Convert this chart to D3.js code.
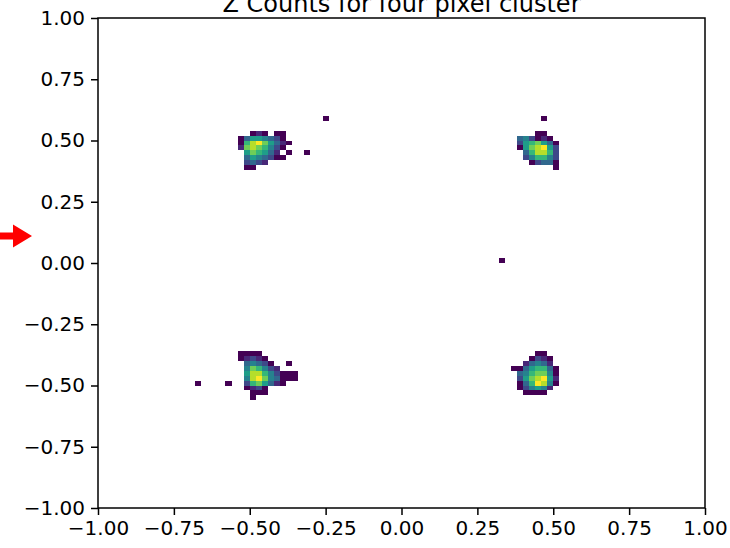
<!DOCTYPE html>
<html>
<head>
<meta charset="utf-8">
<script src="https://cdn.jsdelivr.net/npm/d3@7"></script>
<style>
  html, body { margin: 0; padding: 0; background: #ffffff; }
  svg { display: block; }
  text { font-family: "DejaVu Sans", sans-serif; fill: #000; }
</style>
</head>
<body>
<svg id="chart" width="730" height="548"></svg>
<script>
// 2D histogram of cluster positions, bins of 0.02 on [-1, 1] in both axes.
const binSize = 0.02;
const tickValues = [-1.00, -0.75, -0.50, -0.25, 0.00, 0.25, 0.50, 0.75, 1.00];
const titleText = "Z Counts for four pixel cluster";

// Each cluster: left bin edge (x), lower edge of its top row (y), counts row by row from the top.
const clusterUpperLeft = { x: -0.54, y: 0.52, counts: [
  [0, 0, 1, 2, 1, 0, 1, 1, 0],
  [1, 4, 6, 6, 5, 4, 3, 1, 0],
  [1, 7, 9, 10, 8, 6, 4, 2, 1],
  [2, 8, 9, 8, 7, 5, 3, 1, 0],
  [0, 6, 8, 7, 6, 4, 2, 0, 1],
  [0, 4, 6, 5, 4, 3, 1, 1, 0],
  [0, 3, 4, 3, 2, 0, 0, 0, 0],
  [0, 1, 1, 0, 0, 0, 0, 0, 0]
]};
const clusterUpperRight = { x: 0.38, y: 0.52, counts: [
  [0, 0, 0, 1, 1, 0, 0],
  [4, 5, 3, 1, 2, 1, 0],
  [3, 6, 7, 8, 6, 4, 1],
  [1, 6, 8, 9, 10, 6, 3],
  [0, 4, 7, 9, 9, 7, 3],
  [0, 3, 5, 7, 7, 5, 3],
  [0, 0, 1, 3, 4, 4, 1],
  [0, 0, 0, 0, 0, 0, 1]
]};
const clusterLowerLeft = { x: -0.54, y: -0.38, counts: [
  [1, 1, 1, 1, 0, 0, 0, 0, 0, 0],
  [1, 2, 3, 2, 1, 0, 0, 0, 0, 0],
  [0, 4, 5, 4, 3, 1, 0, 0, 1, 0],
  [0, 5, 8, 7, 5, 3, 2, 0, 0, 0],
  [0, 6, 9, 9, 7, 5, 3, 1, 1, 1],
  [0, 5, 9, 10, 8, 5, 4, 1, 1, 1],
  [0, 3, 7, 8, 6, 4, 2, 1, 0, 0],
  [0, 1, 2, 3, 1, 0, 0, 0, 0, 0],
  [0, 0, 1, 1, 1, 0, 0, 0, 0, 0],
  [0, 0, 1, 0, 0, 0, 0, 0, 0, 0]
]};
const clusterLowerRight = { x: 0.36, y: -0.38, counts: [
  [0, 0, 0, 0, 1, 1, 0, 0],
  [0, 0, 0, 1, 3, 2, 1, 0],
  [0, 0, 2, 4, 5, 4, 2, 0],
  [1, 1, 4, 6, 7, 7, 4, 1],
  [0, 4, 5, 7, 8, 8, 5, 1],
  [0, 3, 6, 8, 9, 10, 6, 2],
  [0, 1, 4, 7, 10, 9, 5, 1],
  [0, 1, 3, 5, 6, 5, 2, 0],
  [0, 0, 1, 1, 1, 1, 0, 0]
]};
// Single isolated hits: [x bin edge, y bin edge, count]
const strayHits = [
  [-0.26, 0.58, 1],
  [-0.32, 0.44, 1],
  [0.46, 0.58, 1],
  [0.32, 0.00, 1],
  [-0.68, -0.50, 1],
  [-0.58, -0.50, 1]
];

const svg = d3.select("#chart");
const margin = { left: 98, right: 25, top: 18, bottom: 40 };
const W = 730, H = 548;

const x = d3.scaleLinear().domain([-1, 1]).range([margin.left, W - margin.right]);
const y = d3.scaleLinear().domain([-1, 1]).range([H - margin.bottom, margin.top]);

// Flatten the cluster grids into bins
const bins = [];
[clusterUpperLeft, clusterUpperRight, clusterLowerLeft, clusterLowerRight].forEach(c => {
  c.counts.forEach((row, r) => {
    row.forEach((v, k) => {
      if (v > 0) bins.push({ x0: c.x + k * binSize, y0: c.y - r * binSize, n: v });
    });
  });
});
strayHits.forEach(([bx, by, n]) => bins.push({ x0: bx, y0: by, n }));

const maxCount = d3.max(bins, d => d.n);
const color = d3.scaleSequential(d3.interpolateViridis).domain([1, maxCount]);

svg.append("g")
  .selectAll("rect")
  .data(bins)
  .join("rect")
  .attr("x", d => x(d.x0))
  .attr("y", d => y(d.y0 + binSize))
  .attr("width", d => x(d.x0 + binSize) - x(d.x0))
  .attr("height", d => y(d.y0) - y(d.y0 + binSize))
  .attr("fill", d => color(d.n))
  .attr("shape-rendering", "crispEdges");

// Axes
const fmt = d3.format(".2f");
const fmtTick = v => fmt(v).replace("-", "\u2212");

const xAxis = svg.append("g")
  .attr("transform", `translate(0,${H - margin.bottom})`)
  .call(d3.axisBottom(x).tickValues(tickValues).tickFormat(fmtTick).tickSize(7).tickPadding(6));
const yAxis = svg.append("g")
  .attr("transform", `translate(${margin.left},0)`)
  .call(d3.axisLeft(y).tickValues(tickValues).tickFormat(fmtTick).tickSize(7).tickPadding(6));

[xAxis, yAxis].forEach(g => {
  g.select(".domain").remove();
  g.selectAll("line").attr("stroke", "#000").attr("stroke-width", 1.5);
  g.selectAll("text").attr("font-size", 20).attr("font-family", "DejaVu Sans").attr("fill", "#222");
});

// Frame
svg.append("rect")
  .attr("x", x(-1)).attr("y", y(1))
  .attr("width", x(1) - x(-1)).attr("height", y(-1) - y(1))
  .attr("fill", "none").attr("stroke", "#000").attr("stroke-width", 1.5);

// Title
svg.append("text")
  .attr("x", (x(-1) + x(1)) / 2)
  .attr("y", 12)
  .attr("text-anchor", "middle")
  .attr("font-size", 24)
  .attr("fill", "#222")
  .text(titleText);

// Red marker arrow at the left edge
const arrowY = y(0.11);
svg.append("path")
  .attr("d", `M0,${arrowY - 3.5} L13,${arrowY - 3.5} L13,${arrowY - 11.5} L32,${arrowY} L13,${arrowY + 11.5} L13,${arrowY + 3.5} L0,${arrowY + 3.5} Z`)
  .attr("fill", "#ff0000");
</script>
</body>
</html>
